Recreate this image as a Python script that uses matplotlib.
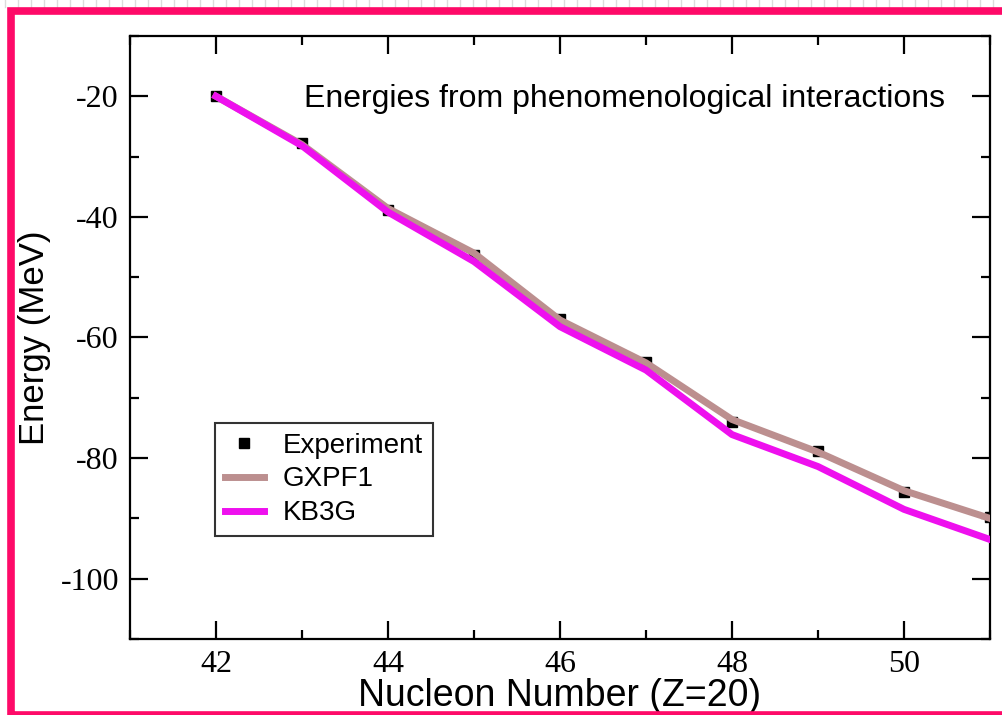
import numpy as np
import matplotlib
matplotlib.use("Agg")
import matplotlib.pyplot as plt
from matplotlib.patches import Rectangle
from matplotlib.lines import Line2D
from matplotlib.ticker import MultipleLocator

plt.rcParams["axes.unicode_minus"] = False

# data
nucleon = [42, 43, 44, 45, 46, 47, 48, 49, 50, 51]
experiment = [-20.0, -27.8, -38.9, -46.3, -56.9, -64.0, -74.0, -78.9, -85.6, -89.7]
gxpf1 = [-20.0, -28.0, -38.6, -46.0, -57.1, -64.2, -73.6, -79.0, -85.4, -90.0]
kb3g = [-20.0, -28.2, -39.2, -47.4, -58.2, -65.4, -76.1, -81.4, -88.5, -93.5]

W, H = 1003, 715
fig = plt.figure(figsize=(W / 100, H / 100), dpi=100, facecolor="white")
ax = fig.add_axes([130 / W, 1 - 639 / H, (990 - 130) / W, (639 - 36) / H])

ax.plot(nucleon, experiment, "s", color="black", markersize=7, label="Experiment", zorder=2)
ax.plot(nucleon, gxpf1, "-", color="#bc8f8f", linewidth=5, label="GXPF1", zorder=3)
ax.plot(nucleon, kb3g, "-", color="#ee10ee", linewidth=5, label="KB3G", zorder=4)

ax.set_xlim(41, 51)
ax.set_ylim(-110, -10)
ax.xaxis.set_major_locator(MultipleLocator(2))
ax.xaxis.set_minor_locator(MultipleLocator(1))
ax.yaxis.set_major_locator(MultipleLocator(20))
ax.yaxis.set_minor_locator(MultipleLocator(10))

for s in ax.spines.values():
    s.set_linewidth(1.6)
ax.tick_params(which="both", direction="in", top=True, right=True, width=1.6)
ax.tick_params(which="major", length=13, pad=8)
ax.tick_params(which="minor", length=6.5)
for lab in ax.get_xticklabels() + ax.get_yticklabels():
    lab.set_family("Liberation Serif")
    lab.set_fontsize(23)

ax.set_xlabel("Nucleon Number (Z=20)", family="Liberation Sans", fontsize=27, labelpad=-1)
ax.set_ylabel("Energy (MeV)", family="Liberation Sans", fontsize=25, labelpad=7)

ax.text(0.575, 0.895, "Energies from phenomenological interactions", transform=ax.transAxes,
        ha="center", va="center", family="Liberation Sans", fontsize=23)

leg = ax.legend(loc="upper left", bbox_to_anchor=(85 / 860, 1 - (423 - 36) / 603),
                prop={"family": "Liberation Sans", "size": 20}, fancybox=False,
                frameon=True, edgecolor="black", handlelength=1.4, handletextpad=0.7,
                labelspacing=0.28, borderpad=0.35, borderaxespad=0)
leg.get_frame().set_linewidth(1.5)

# light pattern strip above the frame
for px in np.arange(5, W, 13):
    fig.add_artist(Line2D([px / W, px / W], [1 - 7 / H, 1], color="#dcdcdc", linewidth=1))

# pink frame around the figure
fig.add_artist(Rectangle((10.5 / W, 1 - 715 / H), (1020 - 10.5) / W, (715 - 11) / H,
                         transform=fig.transFigure, fill=False, edgecolor="#fe0a68",
                         linewidth=5.5, zorder=10, clip_on=False))

fig.savefig("out.png", dpi=100)
